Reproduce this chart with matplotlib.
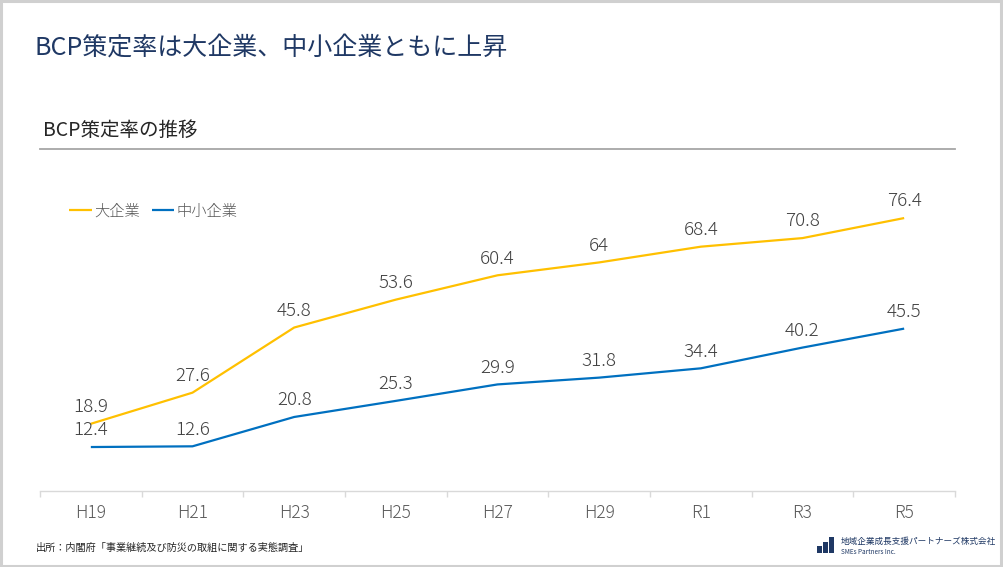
import matplotlib
matplotlib.use("Agg")
import matplotlib.pyplot as plt
from matplotlib.patches import Rectangle

plt.rcParams['font.family'] = ['Noto Sans CJK JP', 'DejaVu Sans']

years = ["H19", "H21", "H23", "H25", "H27", "H29", "R1", "R3", "R5"]
large = [18.9, 27.6, 45.8, 53.6, 60.4, 64, 68.4, 70.8, 76.4]
sme = [12.4, 12.6, 20.8, 25.3, 29.9, 31.8, 34.4, 40.2, 45.5]
series_names = ["大企業", "中小企業"]

YELLOW = "#FFC000"
BLUE = "#0070C0"

fig = plt.figure(figsize=(10.04, 5.67), dpi=100)
ax = fig.add_axes([40 / 1004, (567 - 491.4) / 567, 915 / 1004, (491.4 - 169.4) / 567])

x = list(range(len(years)))
ax.plot(x, large, color=YELLOW, lw=1.6, label=series_names[0], solid_capstyle='butt')
ax.plot(x, sme, color=BLUE, lw=1.6, label=series_names[1], solid_capstyle='butt')

for xs, v in zip(x, large):
    ax.annotate(f"{v:g}", (xs, v), xytext=(0, 12), textcoords="offset points",
                ha="center", va="center", fontsize=13.5, color="#404040",
                fontweight="light")
for xs, v in zip(x, sme):
    ax.annotate(f"{v:g}", (xs, v), xytext=(0, 12), textcoords="offset points",
                ha="center", va="center", fontsize=13.5, color="#404040",
                fontweight="light")

ax.set_xlim(-0.5, len(years) - 0.5)
ax.set_ylim(0, 90)
ax.set_xticks(x)
ax.set_xticklabels(years, fontsize=12.5, color="#595959", fontweight="light")
ax.set_xticks([i - 0.5 for i in range(len(years) + 1)], minor=True)
ax.tick_params(axis='x', which='major', length=0, pad=9)
ax.tick_params(axis='x', which='minor', length=4, color="#D9D9D9", width=1)
ax.set_yticks([])
for s in ["top", "right", "left"]:
    ax.spines[s].set_visible(False)
ax.spines["bottom"].set_color("#D9D9D9")
ax.spines["bottom"].set_linewidth(1)
ax.patch.set_alpha(0)

leg = ax.legend(loc="upper left", bbox_to_anchor=(0.0255, 0.91), ncol=2, frameon=False,
                fontsize=11, handlelength=1.45, handletextpad=0.15, columnspacing=0.8,
                borderaxespad=0)
for t in leg.get_texts():
    t.set_color("#595959")
    t.set_fontweight("light")

# titles
fig.text(35 / 1004, 1 - 48 / 567, "BCP策定率は大企業、中小企業ともに上昇", fontsize=18,
         color="#1F3864", va="center", ha="left")
fig.text(43 / 1004, 1 - 130 / 567, "BCP策定率の推移", fontsize=14, color="#262626",
         va="center", ha="left")
fig.add_artist(plt.Line2D([40 / 1004, 955 / 1004], [1 - 149 / 567, 1 - 149 / 567],
                          color="#A6A6A6", lw=1.3))

# source
fig.text(36 / 1004, 1 - 548 / 567, "出所：内閣府「事業継続及び防災の取組に関する実態調査」",
         fontsize=7.3, color="#262626", va="center", ha="left")

# logo
navy = "#1F3864"
for bx, bh in [(817, 7), (823, 11), (829, 16)]:
    fig.add_artist(Rectangle((bx / 1004, (567 - 553) / 567), 4.5 / 1004, bh / 567,
                             transform=fig.transFigure, color=navy, lw=0))
fig.text(841 / 1004, 1 - 541 / 567, "地域企業成長支援パートナーズ株式会社", fontsize=6.2,
         color=navy, va="center", ha="left")
fig.text(841 / 1004, 1 - 552 / 567, "SMEs Partners Inc.", fontsize=4.6,
         color=navy, va="center", ha="left")

# slide border
fig.add_artist(Rectangle((0.001, 0.002), 0.996, 0.996, transform=fig.transFigure,
                         fill=False, edgecolor="#D0D0D0", lw=2.2))

fig.savefig("out.png", dpi=100)
